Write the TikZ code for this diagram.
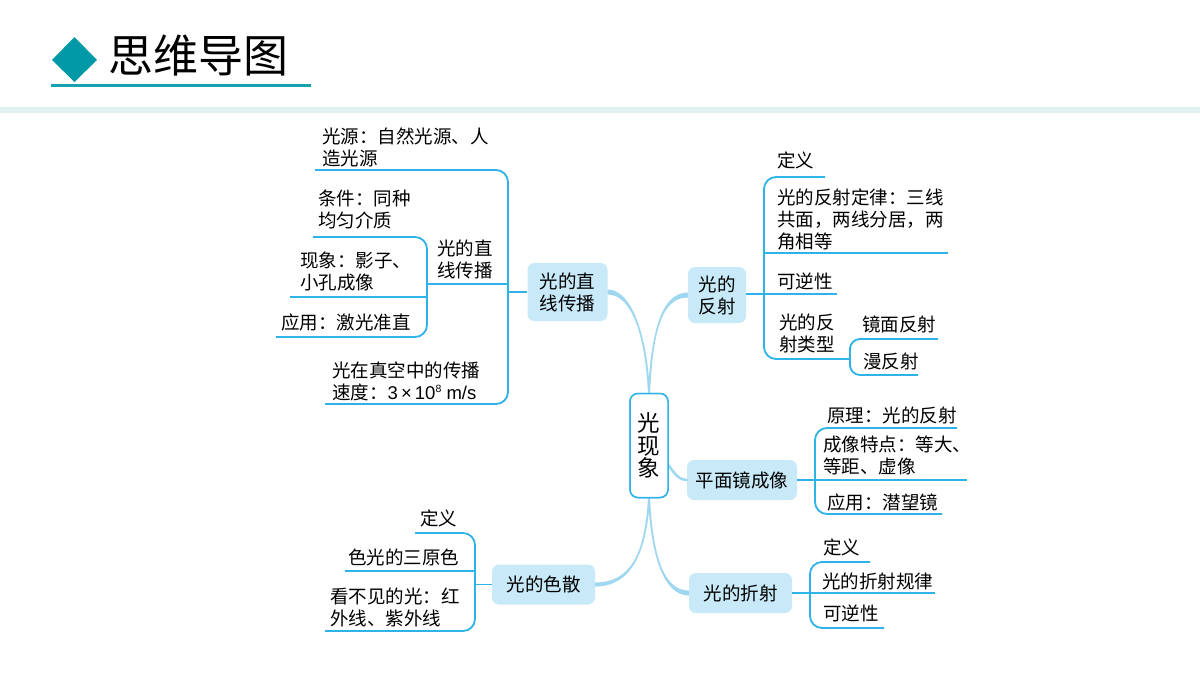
\documentclass[tikz,border=0pt]{standalone}
\usepackage{fontspec}
\setmainfont{Noto Sans CJK SC}
\newfontfamily\latinf{Liberation Sans}
\usetikzlibrary{calc}
\definecolor{teal1}{HTML}{0099A8}
\definecolor{tealline}{HTML}{17A2B0}
\definecolor{bandc}{HTML}{E2F1F0}
\definecolor{brcol}{HTML}{2DB3E8}
\definecolor{lfill}{HTML}{C8E9F8}
\definecolor{conncol}{HTML}{9FD7F0}
\tikzset{
  lbl/.style={anchor=west, inner sep=0pt, align=left, font=\fontsize{18.5}{22}\selectfont},
  lone/.style={fill=lfill, rounded corners=7pt, inner sep=0pt, align=center, font=\fontsize{18.5}{22}\selectfont},
  bracket/.style={draw=brcol, line width=1.8pt},
  rbracket/.style={bracket, rounded corners=12pt},
  conn/.style={draw=conncol, line width=3pt, line cap=round},
  taper/.style={fill=conncol},
  ctrbox/.style={draw=brcol, line width=1.5pt, fill=white, rounded corners=8pt, minimum width=38pt, minimum height=104pt, inner sep=0pt, align=center, font=\fontsize{22.5}{22.5}\selectfont},
}
\begin{document}
\begin{tikzpicture}[x=1pt, y=-1pt]
\useasboundingbox (0,0) rectangle (1200,675);
\fill[white] (0,0) rectangle (1200,675);
% header
\fill[bandc] (0,107) rectangle (1200,113);
\fill[teal1] (52,60) -- (74.5,37) -- (97,60) -- (74.5,82) -- cycle;
\node[anchor=west, inner sep=0pt, font=\fontsize{45}{48}\selectfont] (title) at (108,55) {思维导图};
\draw[tealline, line width=3pt] (51,85) -- (311,85);

% level 1
\node[lone, minimum width=80pt, minimum height=58pt] (a) at (567.5,292) {光的直\\线传播};
\node[lone, minimum width=58pt, minimum height=56pt] (b) at (717,295) {光的\\反射};
\node[lone, minimum width=110pt, minimum height=40pt] (c) at (742,480) {平面镜成像};
\node[lone, minimum width=103pt, minimum height=40pt] (d) at (740.5,593) {光的折射};
\node[lone, minimum width=103pt, minimum height=40pt] (e) at (543.5,584.5) {光的色散};

% center (placement only, drawn again on top)
\node[ctrbox] (ctr) at (649,445.5) {光\\现\\象};

% tapered connectors from center
\fill[taper] ($(ctr.north)+(-1,1)$) .. controls (645,330) and (630,294.5) .. ($(a.east)+(0,2.5)$)
  -- ($(a.east)+(0,-2.5)$) .. controls (630,289.5) and (647,330) .. ($(ctr.north)+(1,1)$) -- cycle;
\fill[taper] ($(ctr.north)+(-1,1)$) .. controls (651,330) and (662,292.5) .. ($(b.west)+(0,-2.5)$)
  -- ($(b.west)+(0,2.5)$) .. controls (662,297.5) and (653,330) .. ($(ctr.north)+(1,1)$) -- cycle;
\fill[taper] ($(ctr.south)+(1,-1)$) .. controls (647,555) and (630,586.5) .. ($(e.east)+(0,2)$)
  -- ($(e.east)+(0,-2)$) .. controls (630,582.5) and (645,555) .. ($(ctr.south)+(-1,-1)$) -- cycle;
\fill[taper] ($(ctr.south)+(1,-1)$) .. controls (653,560) and (665,590.5) .. ($(d.west)+(0,-2.5)$)
  -- ($(d.west)+(0,2.5)$) .. controls (665,595.5) and (651,560) .. ($(ctr.south)+(-1,-1)$) -- cycle;
\draw[conn, line width=2.5pt] (ctr.-45) .. controls (675,475) and (680,480) .. (c.west);
\node[ctrbox] at (ctr) {光\\现\\象};

% ---- 光的直线传播 branch
\draw[rbracket] (315,170) -| (508,300) |- (325,404);
\draw[bracket] (427,284) -- (508,284);
\draw[bracket] (508,292) -- (a.west);
\draw[rbracket] (313,237) -| (427,290) |- (276,337);
\draw[bracket] (290,297) -- (427,297);
\node[lbl] (a1) at (322,147.5) {光源：自然光源、人\\造光源};
\node[lbl] (a2) at (437,259.5) {光的直\\线传播};
\node[lbl] (a21) at (318,209) {条件：同种\\均匀介质};
\node[lbl] (a22) at (300,271) {现象：影子、\\小孔成像};
\node[lbl] (a23) at (281,322) {应用：激光准直};
\node[lbl] (a3) at (332,381) {光在真空中的传播\\速度：{\latinf\fontsize{18.5}{22}\selectfont 3\,×\,10\raisebox{6.5pt}{\fontsize{10.5}{10}\selectfont 8} m/s}};

% ---- 光的反射 branch
\draw[bracket] (b.east |- 0,294) -- (837,294);
\draw[rbracket] (825,177) -| (764,300) |- (850,359);
\draw[bracket] (764,253) -- (948,253);
\draw[bracket, rounded corners=10pt] (938,339) -| (850,357) |- (918,375);
\node[lbl] (b1) at (777,160) {定义};
\node[lbl] (b2) at (777,219) {光的反射定律：三线\\共面，两线分居，两\\角相等};
\node[lbl] (b3) at (777,281) {可逆性};
\node[lbl] (b4) at (779,333) {光的反\\射类型};
\node[lbl] (b41) at (862,324) {镜面反射};
\node[lbl] (b42) at (863,361) {漫反射};

% ---- 平面镜成像 branch
\draw[bracket] (c.east) -- (967,480);
\draw[rbracket] (957,428) -| (815,470) |- (942,514);
\node[lbl] (c1) at (827,415) {原理：光的反射};
\node[lbl] (c2) at (823,455.5) {成像特点：等大、\\等距、虚像};
\node[lbl] (c3) at (827,502) {应用：潜望镜};

% ---- 光的折射 branch
\draw[bracket] (d.east) -- (935,593);
\draw[rbracket] (870,562) -| (810,590) |- (884,628);
\node[lbl] (d1) at (823,547) {定义};
\node[lbl] (d2) at (822,581) {光的折射规律};
\node[lbl] (d3) at (823,613) {可逆性};

% ---- 光的色散 branch
\draw[bracket] (e.west) -- (475,584.5);
\draw[rbracket] (415,533) -| (475,580) |- (325,631);
\draw[bracket] (345,571) -- (475,571);
\node[lbl] (e1) at (420,518) {定义};
\node[lbl] (e2) at (348,557) {色光的三原色};
\node[lbl] (e3) at (330,607.5) {看不见的光：红\\外线、紫外线};
\end{tikzpicture}
\end{document}
